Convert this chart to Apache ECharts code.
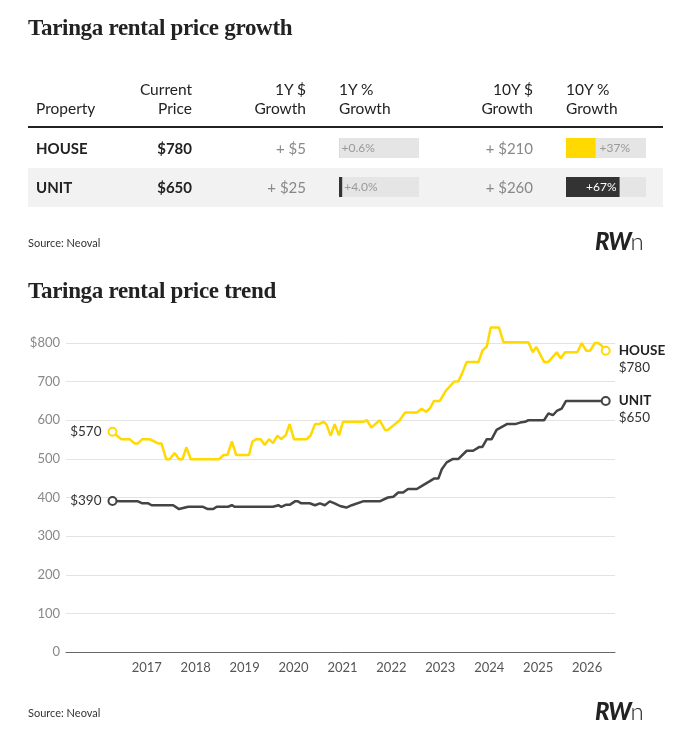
<!DOCTYPE html>
<html><head><meta charset="utf-8">
<script src="https://cdn.jsdelivr.net/npm/echarts@6/dist/echarts.min.js"></script>
<style>
body{margin:0;width:686px;height:746px;background:#fff;font-family:Lato,"Noto Sans",sans-serif;overflow:hidden}
#bg,#chart,#ov{position:absolute;left:0;top:0;width:686px;height:746px}
#ov{pointer-events:none}
.t{position:absolute;white-space:nowrap;color:#222}
.title{font-family:"Liberation Serif","DejaVu Serif",serif;font-weight:bold;font-size:23px;letter-spacing:-0.3px}
.h{font-size:15.5px;line-height:19px;color:#222}
.r{text-align:right}
.src{font-size:11px;color:#333}
.logo{font-size:24px;font-weight:900;font-style:italic;color:#222;letter-spacing:-1px}
</style></head><body>
<div id="bg">
 <div style="position:absolute;left:28px;top:168px;width:635px;height:39px;background:#f2f2f2"></div>
 <div style="position:absolute;left:28px;top:126px;width:635px;height:2px;background:#222"></div>
</div>
<div id="chart"></div>
<div id="ov">
 <div class="t title" style="left:28px;top:15px">Taringa rental price growth</div>
 <div class="t h" style="left:36px;top:99px">Property</div>
 <div class="t h r" style="right:494px;top:80px">Current<br>Price</div>
 <div class="t h r" style="right:380px;top:80px">1Y $<br>Growth</div>
 <div class="t h" style="left:339px;top:80px">1Y %<br>Growth</div>
 <div class="t h r" style="right:153px;top:80px">10Y $<br>Growth</div>
 <div class="t h" style="left:566px;top:80px">10Y %<br>Growth</div>
 <div id="rows"></div>
 <div class="t src" style="left:28px;top:236px">Source: Neoval</div>
 <div class="t logo" style="left:595px;top:226px">RW<span style="font-weight:300;font-style:normal">n</span></div>
 <div class="t title" style="left:28px;top:278px">Taringa rental price trend</div>
 <div class="t src" style="left:28px;top:706px">Source: Neoval</div>
 <div class="t logo" style="left:595px;top:696px">RW<span style="font-weight:300;font-style:normal">n</span></div>
</div>
<script>
const properties = ['HOUSE','UNIT'];
const currentPrice = ['$780','$650'];
const growth1YDollar = ['+ $5','+ $25'];
const growth1YPct = [0.6, 4.0];
const growth10YDollar = ['+ $210','+ $260'];
const growth10YPct = [37, 67];
const seriesColors = ['#FFD900','#333333'];

const houseYears = [2016.30,2016.48,2016.65,2016.75,2016.82,2016.91,2017.06,2017.23,2017.30,2017.40,2017.47,2017.57,2017.66,2017.73,2017.81,2017.90,2018.48,2018.57,2018.65,2018.74,2018.83,2019.09,2019.16,2019.24,2019.33,2019.41,2019.50,2019.58,2019.67,2019.75,2019.84,2019.92,2020.01,2020.27,2020.35,2020.44,2020.52,2020.61,2020.67,2020.76,2020.84,2020.93,2021.01,2021.42,2021.50,2021.59,2021.76,2021.87,2021.93,2022.17,2022.28,2022.52,2022.62,2022.71,2022.79,2022.87,2022.99,2023.11,2023.20,2023.28,2023.37,2023.44,2023.54,2023.78,2023.86,2023.95,2024.03,2024.20,2024.29,2024.80,2024.89,2024.96,2025.12,2025.21,2025.38,2025.46,2025.55,2025.80,2025.89,2025.98,2026.06,2026.16,2026.23,2026.30,2026.38];
const houseValues = [570,551,551,540,540,551,551,540,540,499,499,515,499,499,530,499,499,510,510,545,510,510,545,551,551,536,551,541,560,551,561,590,551,551,561,590,590,596,590,560,590,561,596,596,600,581,600,575,575,600,620,620,630,622,631,650,650,676,688,700,701,720,751,751,780,791,840,840,802,802,776,790,751,751,776,760,776,776,800,780,780,800,800,793,780];
const unitYears = [2016.30,2016.48,2016.82,2016.91,2017.03,2017.10,2017.54,2017.66,2017.85,2018.15,2018.25,2018.36,2018.43,2018.66,2018.74,2018.80,2019.58,2019.69,2019.75,2019.84,2019.92,2020.03,2020.09,2020.16,2020.33,2020.44,2020.54,2020.64,2020.74,2020.84,2020.95,2021.08,2021.19,2021.42,2021.76,2021.93,2022.04,2022.14,2022.24,2022.34,2022.52,2022.65,2022.77,2022.87,2022.96,2023.03,2023.13,2023.26,2023.37,2023.54,2023.67,2023.80,2023.86,2023.95,2024.05,2024.15,2024.36,2024.53,2024.63,2024.73,2024.80,2025.12,2025.21,2025.30,2025.38,2025.48,2025.57,2026.38];
const unitValues = [391,390,390,385,385,380,380,370,376,376,370,370,376,376,380,376,376,380,376,381,381,390,390,385,385,380,385,380,390,385,378,374,380,390,390,400,402,413,413,422,422,432,441,449,449,473,491,500,500,521,521,531,531,551,551,575,590,590,594,596,600,600,618,613,624,630,650,650];
const yearTicks = [2017,2018,2019,2020,2021,2022,2023,2024,2025,2026];

let rh='';
properties.forEach((p,i)=>{
  const y = 139 + i*39;
  rh += `<div class="t" style="left:36px;top:${y}px;font-size:15px;font-weight:bold">${p}</div>`;
  rh += `<div class="t r" style="right:494px;top:${y}px;font-size:15px;font-weight:bold">${currentPrice[i]}</div>`;
  rh += `<div class="t r" style="right:380px;top:${y}px;font-size:15px;color:#888">${growth1YDollar[i]}</div>`;
  rh += `<div class="t r" style="right:153px;top:${y}px;font-size:15px;color:#888">${growth10YDollar[i]}</div>`;
});
document.getElementById('rows').innerHTML = rh;

function pts(xs, vs, name, lblLeft, lblRight){
  return xs.map((x,i)=>{
    const d = {value:[x, vs[i]]};
    if(i===0){
      d.symbol='circle'; d.symbolSize=8;
      d.label={show:true,position:'left',distance:6,formatter:lblLeft,color:'#333',fontSize:13.5,fontFamily:'Lato'};
    } else if(i===xs.length-1){
      d.symbol='circle'; d.symbolSize=8;
      d.label={show:true,position:'right',distance:8,offset:[0,8],formatter:'{a|'+name+'}\n{b|'+lblRight+'}',
        rich:{a:{fontSize:13.5,fontWeight:'bold',color:'#222',fontFamily:'Lato',lineHeight:17},b:{fontSize:13.5,color:'#333',fontFamily:'Lato',lineHeight:17}}};
    } else d.symbol='none';
    return d;
  });
}

const chart = echarts.init(document.getElementById('chart'), null, {renderer:'canvas'});
const barGrid = (left)=>({left:left, top:128.5, width:80, height:78});
chart.setOption({
  backgroundColor:'transparent',
  animation:false,
  grid:[
    {left:66, right:71, top:343, bottom:94},
    barGrid(339), barGrid(566)
  ],
  xAxis:[
    {type:'value', gridIndex:0, min:2015.35, max:2026.57,
     axisLine:{lineStyle:{color:'#666'}}, axisTick:{show:false}, splitLine:{show:false},
     axisLabel:{customValues:yearTicks, color:'#555', fontSize:13, fontFamily:'Lato', margin:9, formatter:v=>String(Math.round(v))}},
    {type:'value', gridIndex:1, min:0, max:100, show:false},
    {type:'value', gridIndex:2, min:0, max:100, show:false}
  ],
  yAxis:[
    {type:'value', gridIndex:0, min:0, max:800, interval:100,
     axisLine:{show:false}, axisTick:{show:false},
     splitLine:{lineStyle:{color:'#e3e3e3'}},
     axisLabel:{color:'#888', fontSize:13, fontFamily:'Lato', margin:6, formatter:v=> v===800?'$'+v:''+v}},
    {type:'category', gridIndex:1, data:properties, inverse:true, show:false},
    {type:'category', gridIndex:2, data:properties, inverse:true, show:false}
  ],
  series:[
    {type:'line', clip:false, xAxisIndex:0, yAxisIndex:0, data:pts(houseYears, houseValues, 'HOUSE', '$570', '$780'),
     lineStyle:{color:seriesColors[0], width:2.5}, itemStyle:{color:'#fff', borderColor:seriesColors[0], borderWidth:2}, z:3},
    {type:'line', clip:false, xAxisIndex:0, yAxisIndex:0, data:pts(unitYears, unitValues, 'UNIT', '$390', '$650'),
     lineStyle:{color:'#444', width:2.5}, itemStyle:{color:'#fff', borderColor:'#444', borderWidth:2}, z:3},
    {type:'bar', xAxisIndex:1, yAxisIndex:1, barWidth:20, showBackground:true, backgroundStyle:{color:'#e5e5e5'},
     data:growth1YPct.map((v,i)=>({value:v, itemStyle:{color:seriesColors[i]}})),
     label:{show:true, position:'right', distance:2, color:'#999', fontSize:12, fontFamily:'Lato', formatter:p=>'+'+p.value.toFixed(1)+'%'}},
    {type:'bar', xAxisIndex:2, yAxisIndex:2, barWidth:20, showBackground:true, backgroundStyle:{color:'#e5e5e5'},
     data:growth10YPct.map((v,i)=>({value:v, itemStyle:{color:seriesColors[i]},
       label: i===1 ? {position:'insideRight', distance:3, color:'#fff'} : {position:'right', distance:4, color:'#999'}})),
     label:{show:true, fontSize:12, fontFamily:'Lato', formatter:p=>'+'+p.value+'%'}}
  ]
});
</script>
</body></html>
